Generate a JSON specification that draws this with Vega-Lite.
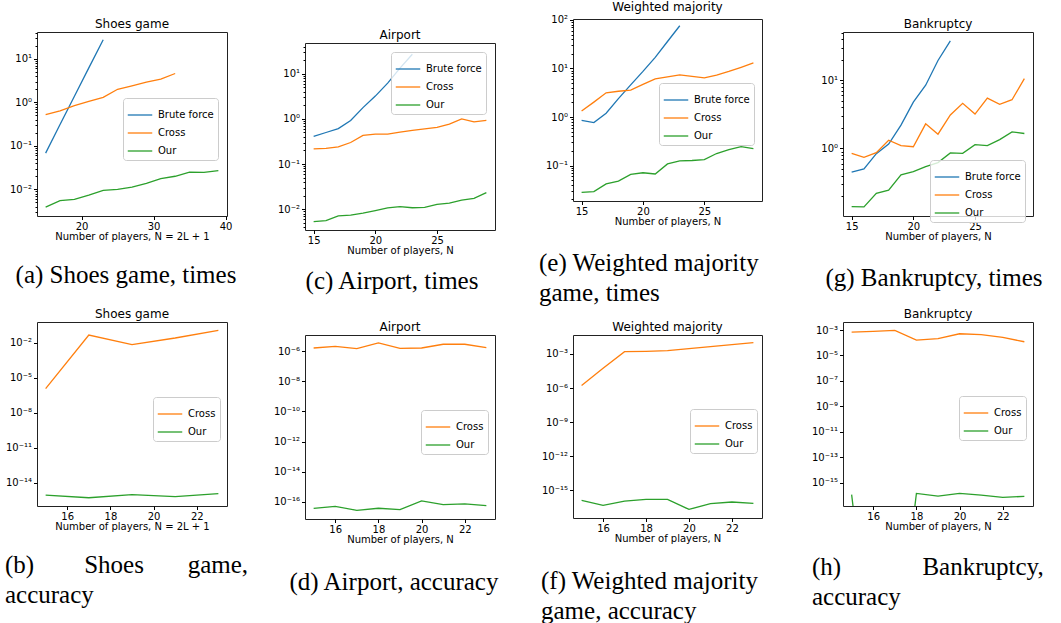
{
  "$schema": "https://vega.github.io/schema/vega-lite/v6.json",
  "padding": {"left": 4, "top": 0, "right": 0, "bottom": 0},
  "datasets": {
    "shoesT": [
      {"N": 15, "method": "Brute force", "value": 0.068}, {"N": 17, "method": "Brute force", "value": 0.31}, {"N": 19, "method": "Brute force", "value": 1.38}, {"N": 21, "method": "Brute force", "value": 6.2}, {"N": 23, "method": "Brute force", "value": 27.5},
      {"N": 15, "method": "Cross", "value": 0.52}, {"N": 17, "method": "Cross", "value": 0.64}, {"N": 19, "method": "Cross", "value": 0.84}, {"N": 21, "method": "Cross", "value": 1.05}, {"N": 23, "method": "Cross", "value": 1.3}, {"N": 25, "method": "Cross", "value": 2.0}, {"N": 27, "method": "Cross", "value": 2.4}, {"N": 29, "method": "Cross", "value": 2.9}, {"N": 31, "method": "Cross", "value": 3.4}, {"N": 33, "method": "Cross", "value": 4.6},
      {"N": 15, "method": "Our", "value": 0.0039}, {"N": 17, "method": "Our", "value": 0.0055}, {"N": 19, "method": "Our", "value": 0.0059}, {"N": 21, "method": "Our", "value": 0.0074}, {"N": 23, "method": "Our", "value": 0.0095}, {"N": 25, "method": "Our", "value": 0.0100}, {"N": 27, "method": "Our", "value": 0.0112}, {"N": 29, "method": "Our", "value": 0.0138}, {"N": 31, "method": "Our", "value": 0.0176}, {"N": 33, "method": "Our", "value": 0.020}, {"N": 35, "method": "Our", "value": 0.025}, {"N": 37, "method": "Our", "value": 0.0246}, {"N": 39, "method": "Our", "value": 0.027}
    ],
    "airT": [
      {"N": 15, "method": "Brute force", "value": 0.41}, {"N": 16, "method": "Brute force", "value": 0.50}, {"N": 17, "method": "Brute force", "value": 0.61}, {"N": 18, "method": "Brute force", "value": 0.92}, {"N": 19, "method": "Brute force", "value": 1.78}, {"N": 20, "method": "Brute force", "value": 3.2}, {"N": 21, "method": "Brute force", "value": 6.2}, {"N": 22, "method": "Brute force", "value": 13.3}, {"N": 23, "method": "Brute force", "value": 27},
      {"N": 15, "method": "Cross", "value": 0.216}, {"N": 16, "method": "Cross", "value": 0.223}, {"N": 17, "method": "Cross", "value": 0.24}, {"N": 18, "method": "Cross", "value": 0.30}, {"N": 19, "method": "Cross", "value": 0.43}, {"N": 20, "method": "Cross", "value": 0.46}, {"N": 21, "method": "Cross", "value": 0.46}, {"N": 22, "method": "Cross", "value": 0.51}, {"N": 23, "method": "Cross", "value": 0.56}, {"N": 24, "method": "Cross", "value": 0.60}, {"N": 25, "method": "Cross", "value": 0.65}, {"N": 26, "method": "Cross", "value": 0.77}, {"N": 27, "method": "Cross", "value": 1.0}, {"N": 28, "method": "Cross", "value": 0.86}, {"N": 29, "method": "Cross", "value": 0.93},
      {"N": 15, "method": "Our", "value": 0.0053}, {"N": 16, "method": "Our", "value": 0.0056}, {"N": 17, "method": "Our", "value": 0.0071}, {"N": 18, "method": "Our", "value": 0.0074}, {"N": 19, "method": "Our", "value": 0.0082}, {"N": 20, "method": "Our", "value": 0.0093}, {"N": 21, "method": "Our", "value": 0.0107}, {"N": 22, "method": "Our", "value": 0.0114}, {"N": 23, "method": "Our", "value": 0.0108}, {"N": 24, "method": "Our", "value": 0.011}, {"N": 25, "method": "Our", "value": 0.0128}, {"N": 26, "method": "Our", "value": 0.0137}, {"N": 27, "method": "Our", "value": 0.016}, {"N": 28, "method": "Our", "value": 0.0174}, {"N": 29, "method": "Our", "value": 0.0233}
    ],
    "wmT": [
      {"N": 15, "method": "Brute force", "value": 0.85}, {"N": 16, "method": "Brute force", "value": 0.77}, {"N": 17, "method": "Brute force", "value": 1.2}, {"N": 18, "method": "Brute force", "value": 2.4}, {"N": 19, "method": "Brute force", "value": 4.6}, {"N": 20, "method": "Brute force", "value": 8.7}, {"N": 21, "method": "Brute force", "value": 17}, {"N": 22, "method": "Brute force", "value": 36}, {"N": 23, "method": "Brute force", "value": 76},
      {"N": 15, "method": "Cross", "value": 1.33}, {"N": 16, "method": "Cross", "value": 2.03}, {"N": 17, "method": "Cross", "value": 3.16}, {"N": 18, "method": "Cross", "value": 3.4}, {"N": 19, "method": "Cross", "value": 3.6}, {"N": 20, "method": "Cross", "value": 4.7}, {"N": 21, "method": "Cross", "value": 6.1}, {"N": 22, "method": "Cross", "value": 6.7}, {"N": 23, "method": "Cross", "value": 7.4}, {"N": 24, "method": "Cross", "value": 6.9}, {"N": 25, "method": "Cross", "value": 6.4}, {"N": 26, "method": "Cross", "value": 7.3}, {"N": 27, "method": "Cross", "value": 8.7}, {"N": 28, "method": "Cross", "value": 10.6}, {"N": 29, "method": "Cross", "value": 13.1},
      {"N": 15, "method": "Our", "value": 0.028}, {"N": 16, "method": "Our", "value": 0.029}, {"N": 17, "method": "Our", "value": 0.042}, {"N": 18, "method": "Our", "value": 0.048}, {"N": 19, "method": "Our", "value": 0.066}, {"N": 20, "method": "Our", "value": 0.071}, {"N": 21, "method": "Our", "value": 0.067}, {"N": 22, "method": "Our", "value": 0.108}, {"N": 23, "method": "Our", "value": 0.125}, {"N": 24, "method": "Our", "value": 0.127}, {"N": 25, "method": "Our", "value": 0.132}, {"N": 26, "method": "Our", "value": 0.177}, {"N": 27, "method": "Our", "value": 0.214}, {"N": 28, "method": "Our", "value": 0.246}, {"N": 29, "method": "Our", "value": 0.224}
    ],
    "bankT": [
      {"N": 15, "method": "Brute force", "value": 0.45}, {"N": 16, "method": "Brute force", "value": 0.50}, {"N": 17, "method": "Brute force", "value": 0.84}, {"N": 18, "method": "Brute force", "value": 1.16}, {"N": 19, "method": "Brute force", "value": 2.2}, {"N": 20, "method": "Brute force", "value": 4.8}, {"N": 21, "method": "Brute force", "value": 8.5}, {"N": 22, "method": "Brute force", "value": 19.6}, {"N": 23, "method": "Brute force", "value": 38},
      {"N": 15, "method": "Cross", "value": 0.85}, {"N": 16, "method": "Cross", "value": 0.74}, {"N": 17, "method": "Cross", "value": 0.87}, {"N": 18, "method": "Cross", "value": 1.32}, {"N": 19, "method": "Cross", "value": 1.1}, {"N": 20, "method": "Cross", "value": 1.06}, {"N": 21, "method": "Cross", "value": 2.3}, {"N": 22, "method": "Cross", "value": 1.62}, {"N": 23, "method": "Cross", "value": 3.1}, {"N": 24, "method": "Cross", "value": 4.6}, {"N": 25, "method": "Cross", "value": 3.2}, {"N": 26, "method": "Cross", "value": 5.5}, {"N": 27, "method": "Cross", "value": 4.46}, {"N": 28, "method": "Cross", "value": 5.2}, {"N": 29, "method": "Cross", "value": 10.6},
      {"N": 15, "method": "Our", "value": 0.14}, {"N": 16, "method": "Our", "value": 0.139}, {"N": 17, "method": "Our", "value": 0.22}, {"N": 18, "method": "Our", "value": 0.245}, {"N": 19, "method": "Our", "value": 0.41}, {"N": 20, "method": "Our", "value": 0.456}, {"N": 21, "method": "Our", "value": 0.54}, {"N": 22, "method": "Our", "value": 0.62}, {"N": 23, "method": "Our", "value": 0.86}, {"N": 24, "method": "Our", "value": 0.85}, {"N": 25, "method": "Our", "value": 1.14}, {"N": 26, "method": "Our", "value": 1.1}, {"N": 27, "method": "Our", "value": 1.35}, {"N": 28, "method": "Our", "value": 1.75}, {"N": 29, "method": "Our", "value": 1.66}
    ],
    "shoesA": [
      {"N": 15, "method": "Cross", "value": 1.15e-6}, {"N": 17, "method": "Cross", "value": 0.045}, {"N": 19, "method": "Cross", "value": 0.0067}, {"N": 21, "method": "Cross", "value": 0.025}, {"N": 23, "method": "Cross", "value": 0.115},
      {"N": 15, "method": "Our", "value": 8.7e-16}, {"N": 17, "method": "Our", "value": 5.1e-16}, {"N": 19, "method": "Our", "value": 9.3e-16}, {"N": 21, "method": "Our", "value": 6.3e-16}, {"N": 23, "method": "Our", "value": 1.15e-15}
    ],
    "airA": [
      {"N": 15, "method": "Cross", "value": 1.58e-6}, {"N": 16, "method": "Cross", "value": 2.0e-6}, {"N": 17, "method": "Cross", "value": 1.42e-6}, {"N": 18, "method": "Cross", "value": 3.4e-6}, {"N": 19, "method": "Cross", "value": 1.5e-6}, {"N": 20, "method": "Cross", "value": 1.58e-6}, {"N": 21, "method": "Cross", "value": 2.8e-6}, {"N": 22, "method": "Cross", "value": 2.8e-6}, {"N": 23, "method": "Cross", "value": 1.65e-6},
      {"N": 15, "method": "Our", "value": 3.8e-17}, {"N": 16, "method": "Our", "value": 5.1e-17}, {"N": 17, "method": "Our", "value": 2.8e-17}, {"N": 18, "method": "Our", "value": 3.8e-17}, {"N": 19, "method": "Our", "value": 3.1e-17}, {"N": 20, "method": "Our", "value": 1.17e-16}, {"N": 21, "method": "Our", "value": 6.6e-17}, {"N": 22, "method": "Our", "value": 7.4e-17}, {"N": 23, "method": "Our", "value": 5.7e-17}
    ],
    "wmA": [
      {"N": 15, "method": "Cross", "value": 1.66e-6}, {"N": 16, "method": "Cross", "value": 5.5e-5}, {"N": 17, "method": "Cross", "value": 1.6e-3}, {"N": 18, "method": "Cross", "value": 1.7e-3}, {"N": 19, "method": "Cross", "value": 1.95e-3}, {"N": 20, "method": "Cross", "value": 2.9e-3}, {"N": 21, "method": "Cross", "value": 4.4e-3}, {"N": 22, "method": "Cross", "value": 6.6e-3}, {"N": 23, "method": "Cross", "value": 0.01},
      {"N": 15, "method": "Our", "value": 1.3e-16}, {"N": 16, "method": "Our", "value": 4.8e-17}, {"N": 17, "method": "Our", "value": 1.15e-16}, {"N": 18, "method": "Our", "value": 1.6e-16}, {"N": 19, "method": "Our", "value": 1.6e-16}, {"N": 20, "method": "Our", "value": 2.1e-17}, {"N": 21, "method": "Our", "value": 6.7e-17}, {"N": 22, "method": "Our", "value": 9.5e-17}, {"N": 23, "method": "Our", "value": 7.2e-17}
    ],
    "bankA": [
      {"N": 15, "method": "Cross", "value": 6.9e-4}, {"N": 16, "method": "Cross", "value": 7.9e-4}, {"N": 17, "method": "Cross", "value": 9.4e-4}, {"N": 18, "method": "Cross", "value": 1.6e-4}, {"N": 19, "method": "Cross", "value": 2.1e-4}, {"N": 20, "method": "Cross", "value": 5.1e-4}, {"N": 21, "method": "Cross", "value": 4.3e-4}, {"N": 22, "method": "Cross", "value": 2.6e-4}, {"N": 23, "method": "Cross", "value": 1.2e-4},
      {"N": 15, "method": "Our", "value": 1.15e-16}, {"N": 16, "method": "Our", "value": 1e-30}, {"N": 17, "method": "Our", "value": 1e-30}, {"N": 18, "method": "Our", "value": 1.45e-16}, {"N": 19, "method": "Our", "value": 9e-17}, {"N": 20, "method": "Our", "value": 1.45e-16}, {"N": 21, "method": "Our", "value": 1.07e-16}, {"N": 22, "method": "Our", "value": 7e-17}, {"N": 23, "method": "Our", "value": 8.5e-17}
    ]
  },
  "hconcat": [
    {
      "hconcat": [
        {
          "vconcat": [
            {
              "vconcat": [
                {"data": {"values": []}, "mark": "point", "width": 190, "height": 32, "view": {"stroke": null, "fill": "white"}},
                {
                  "data": {"name": "shoesT"}, "width": 190, "height": 184, "title": "Shoes game",
                  "layer": [
                    {
                      "mark": {"type": "line", "clip": true},
                      "encoding": {
                        "x": {"field": "N", "type": "quantitative", "scale": {"domain": [13.8, 40.2], "nice": false, "zero": false}, "axis": {"values": [20, 30, 40], "format": "d", "title": "Number of players, N = 2L + 1"}},
                        "y": {"field": "value", "type": "quantitative", "scale": {"type": "log", "domain": [0.00244, 41.4], "nice": false}, "axis": {"values": [0.01, 0.1, 1, 10], "title": null, "labelExpr": "'10' + substring('⁻⁰¹²³⁴⁵⁶⁷⁸⁹', indexof('-0123456789', substring(toString(round(log(datum.value)/LN10)),0,1)), indexof('-0123456789', substring(toString(round(log(datum.value)/LN10)),0,1))+1) + (length(toString(round(log(datum.value)/LN10)))>1 ? substring('⁻⁰¹²³⁴⁵⁶⁷⁸⁹', indexof('-0123456789', substring(toString(round(log(datum.value)/LN10)),1,2)), indexof('-0123456789', substring(toString(round(log(datum.value)/LN10)),1,2))+1) : '') + (length(toString(round(log(datum.value)/LN10)))>2 ? substring('⁻⁰¹²³⁴⁵⁶⁷⁸⁹', indexof('-0123456789', substring(toString(round(log(datum.value)/LN10)),2,3)), indexof('-0123456789', substring(toString(round(log(datum.value)/LN10)),2,3))+1) : '')"}},
                        "color": {"field": "method", "type": "nominal", "title": null, "scale": {"domain": ["Brute force", "Cross", "Our"], "range": ["#1f77b4", "#ff7f0e", "#2ca02c"]}, "legend": {"orient": "none", "legendX": 86, "legendY": 66}}
                      }
                    },
                    {
                      "mark": {"type": "line", "clip": true, "strokeOpacity": 0},
                      "encoding": {
                        "x": {"field": "N", "type": "quantitative", "scale": {"domain": [13.8, 40.2], "nice": false, "zero": false}, "axis": {"values": [20, 30, 40], "format": "d", "title": "Number of players, N = 2L + 1"}},
                        "y": {"field": "value", "type": "quantitative", "scale": {"type": "log", "domain": [0.00244, 41.4], "nice": false}, "axis": {"orient": "left", "values": [0.003, 0.004, 0.005, 0.006, 0.007, 0.008, 0.009, 0.02, 0.03, 0.04, 0.05, 0.06, 0.07, 0.08, 0.09, 0.2, 0.3, 0.4, 0.5, 0.6, 0.7, 0.8, 0.9, 2, 3, 4, 5, 6, 7, 8, 9, 20, 30, 40], "labels": false, "tickSize": 2, "title": null}}
                      }
                    }
                  ],
                  "resolve": {"axis": {"y": "independent"}}
                }
              ],
              "spacing": 0, "bounds": "flush",
              "resolve": {"scale": {"color": "independent"}, "legend": {"color": "independent"}},
              "title": {"text": "(a) Shoes game, times", "orient": "bottom", "anchor": "middle", "frame": "group", "dx": 89, "offset": 21, "font": "Liberation Serif", "fontSize": 25}
            },
            {
              "vconcat": [
                {"data": {"values": []}, "mark": "point", "width": 190, "height": 20, "view": {"stroke": null, "fill": "white"}},
                {
                  "data": {"name": "shoesA"}, "width": 190, "height": 184, "title": "Shoes game",
                  "mark": {"type": "line", "clip": true},
                  "encoding": {
                    "x": {"field": "N", "type": "quantitative", "scale": {"domain": [14.6, 23.4], "nice": false, "zero": false}, "axis": {"values": [16, 18, 20, 22], "format": "d", "title": "Number of players, N = 2L + 1"}},
                    "y": {"field": "value", "type": "quantitative", "scale": {"type": "log", "domain": [1e-16, 0.589], "nice": false}, "axis": {"values": [1e-14, 1e-11, 1e-8, 1e-5, 1e-2], "title": null, "labelExpr": "'10' + substring('⁻⁰¹²³⁴⁵⁶⁷⁸⁹', indexof('-0123456789', substring(toString(round(log(datum.value)/LN10)),0,1)), indexof('-0123456789', substring(toString(round(log(datum.value)/LN10)),0,1))+1) + (length(toString(round(log(datum.value)/LN10)))>1 ? substring('⁻⁰¹²³⁴⁵⁶⁷⁸⁹', indexof('-0123456789', substring(toString(round(log(datum.value)/LN10)),1,2)), indexof('-0123456789', substring(toString(round(log(datum.value)/LN10)),1,2))+1) : '') + (length(toString(round(log(datum.value)/LN10)))>2 ? substring('⁻⁰¹²³⁴⁵⁶⁷⁸⁹', indexof('-0123456789', substring(toString(round(log(datum.value)/LN10)),2,3)), indexof('-0123456789', substring(toString(round(log(datum.value)/LN10)),2,3))+1) : '')"}},
                    "color": {"field": "method", "type": "nominal", "title": null, "scale": {"domain": ["Cross", "Our"], "range": ["#ff7f0e", "#2ca02c"]}, "legend": {"orient": "none", "legendX": 116, "legendY": 75}}
                  }
                }
              ],
              "spacing": 0, "bounds": "flush",
              "resolve": {"scale": {"color": "independent"}, "legend": {"color": "independent"}},
              "title": {"text": ["(b)\u00a0\u00a0\u00a0\u00a0\u00a0\u00a0\u00a0\u00a0Shoes\u00a0\u00a0\u00a0\u00a0\u00a0\u00a0\u00a0game,", "accuracy"], "orient": "bottom", "anchor": "start", "align": "left", "frame": "group", "dx": -32, "offset": 21, "lineHeight": 30, "font": "Liberation Serif", "fontSize": 25}
            }
          ],
          "spacing": 14,
          "resolve": {"scale": {"color": "independent"}, "legend": {"color": "independent"}}
        },
        {
          "vconcat": [
            {
              "vconcat": [
                {"data": {"values": []}, "mark": "point", "width": 190, "height": 43, "view": {"stroke": null, "fill": "white"}},
                {
                  "data": {"name": "airT"}, "width": 190, "height": 187, "title": "Airport",
                  "layer": [
                    {
                      "mark": {"type": "line", "clip": true},
                      "encoding": {
                        "x": {"field": "N", "type": "quantitative", "scale": {"domain": [14.3, 29.7], "nice": false, "zero": false}, "axis": {"values": [15, 20, 25], "format": "d", "title": "Number of players, N"}},
                        "y": {"field": "value", "type": "quantitative", "scale": {"type": "log", "domain": [0.00347, 47.9], "nice": false}, "axis": {"values": [0.01, 0.1, 1, 10], "title": null, "labelExpr": "'10' + substring('⁻⁰¹²³⁴⁵⁶⁷⁸⁹', indexof('-0123456789', substring(toString(round(log(datum.value)/LN10)),0,1)), indexof('-0123456789', substring(toString(round(log(datum.value)/LN10)),0,1))+1) + (length(toString(round(log(datum.value)/LN10)))>1 ? substring('⁻⁰¹²³⁴⁵⁶⁷⁸⁹', indexof('-0123456789', substring(toString(round(log(datum.value)/LN10)),1,2)), indexof('-0123456789', substring(toString(round(log(datum.value)/LN10)),1,2))+1) : '') + (length(toString(round(log(datum.value)/LN10)))>2 ? substring('⁻⁰¹²³⁴⁵⁶⁷⁸⁹', indexof('-0123456789', substring(toString(round(log(datum.value)/LN10)),2,3)), indexof('-0123456789', substring(toString(round(log(datum.value)/LN10)),2,3))+1) : '')"}},
                        "color": {"field": "method", "type": "nominal", "title": null, "scale": {"domain": ["Brute force", "Cross", "Our"], "range": ["#1f77b4", "#ff7f0e", "#2ca02c"]}, "legend": {"orient": "none", "legendX": 86, "legendY": 9}}
                      }
                    },
                    {
                      "mark": {"type": "line", "clip": true, "strokeOpacity": 0},
                      "encoding": {
                        "x": {"field": "N", "type": "quantitative", "scale": {"domain": [14.3, 29.7], "nice": false, "zero": false}, "axis": {"values": [15, 20, 25], "format": "d", "title": "Number of players, N"}},
                        "y": {"field": "value", "type": "quantitative", "scale": {"type": "log", "domain": [0.00347, 47.9], "nice": false}, "axis": {"orient": "left", "values": [0.004, 0.005, 0.006, 0.007, 0.008, 0.009, 0.02, 0.03, 0.04, 0.05, 0.06, 0.07, 0.08, 0.09, 0.2, 0.3, 0.4, 0.5, 0.6, 0.7, 0.8, 0.9, 2, 3, 4, 5, 6, 7, 8, 9, 20, 30, 40], "labels": false, "tickSize": 2, "title": null}}
                      }
                    }
                  ],
                  "resolve": {"axis": {"y": "independent"}}
                }
              ],
              "spacing": 0, "bounds": "flush",
              "resolve": {"scale": {"color": "independent"}, "legend": {"color": "independent"}},
              "title": {"text": "(c) Airport, times", "orient": "bottom", "anchor": "middle", "frame": "group", "dx": 87, "offset": 13, "font": "Liberation Serif", "fontSize": 25}
            },
            {
              "vconcat": [
                {"data": {"values": []}, "mark": "point", "width": 190, "height": 20, "view": {"stroke": null, "fill": "white"}},
                {
                  "data": {"name": "airA"}, "width": 190, "height": 184, "title": "Airport",
                  "mark": {"type": "line", "clip": true},
                  "encoding": {
                    "x": {"field": "N", "type": "quantitative", "scale": {"domain": [14.6, 23.4], "nice": false, "zero": false}, "axis": {"values": [16, 18, 20, 22], "format": "d", "title": "Number of players, N"}},
                    "y": {"field": "value", "type": "quantitative", "scale": {"type": "log", "domain": [7.4e-18, 1.15e-5], "nice": false}, "axis": {"values": [1e-16, 1e-14, 1e-12, 1e-10, 1e-8, 1e-6], "title": null, "labelExpr": "'10' + substring('⁻⁰¹²³⁴⁵⁶⁷⁸⁹', indexof('-0123456789', substring(toString(round(log(datum.value)/LN10)),0,1)), indexof('-0123456789', substring(toString(round(log(datum.value)/LN10)),0,1))+1) + (length(toString(round(log(datum.value)/LN10)))>1 ? substring('⁻⁰¹²³⁴⁵⁶⁷⁸⁹', indexof('-0123456789', substring(toString(round(log(datum.value)/LN10)),1,2)), indexof('-0123456789', substring(toString(round(log(datum.value)/LN10)),1,2))+1) : '') + (length(toString(round(log(datum.value)/LN10)))>2 ? substring('⁻⁰¹²³⁴⁵⁶⁷⁸⁹', indexof('-0123456789', substring(toString(round(log(datum.value)/LN10)),2,3)), indexof('-0123456789', substring(toString(round(log(datum.value)/LN10)),2,3))+1) : '')"}},
                    "color": {"field": "method", "type": "nominal", "title": null, "scale": {"domain": ["Cross", "Our"], "range": ["#ff7f0e", "#2ca02c"]}, "legend": {"orient": "none", "legendX": 116, "legendY": 75}}
                  }
                }
              ],
              "spacing": 0, "bounds": "flush",
              "resolve": {"scale": {"color": "independent"}, "legend": {"color": "independent"}},
              "title": {"text": "(d) Airport, accuracy", "orient": "bottom", "anchor": "middle", "frame": "group", "dx": 89, "offset": 25, "font": "Liberation Serif", "fontSize": 25}
            }
          ],
          "spacing": 21,
          "resolve": {"scale": {"color": "independent"}, "legend": {"color": "independent"}}
        }
      ],
      "spacing": 23,
      "resolve": {"scale": {"color": "independent"}, "legend": {"color": "independent"}}
    },
    {
      "hconcat": [
        {
          "vconcat": [
            {
              "vconcat": [
                {"data": {"values": []}, "mark": "point", "width": 189, "height": 19, "view": {"stroke": null, "fill": "white"}},
                {
                  "data": {"name": "wmT"}, "width": 189, "height": 182, "title": "Weighted majority",
                  "layer": [
                    {
                      "mark": {"type": "line", "clip": true},
                      "encoding": {
                        "x": {"field": "N", "type": "quantitative", "scale": {"domain": [14.3, 29.7], "nice": false, "zero": false}, "axis": {"values": [15, 20, 25], "format": "d", "title": "Number of players, N"}},
                        "y": {"field": "value", "type": "quantitative", "scale": {"type": "log", "domain": [0.0186, 104.7], "nice": false}, "axis": {"values": [0.1, 1, 10, 100], "title": null, "labelExpr": "'10' + substring('⁻⁰¹²³⁴⁵⁶⁷⁸⁹', indexof('-0123456789', substring(toString(round(log(datum.value)/LN10)),0,1)), indexof('-0123456789', substring(toString(round(log(datum.value)/LN10)),0,1))+1) + (length(toString(round(log(datum.value)/LN10)))>1 ? substring('⁻⁰¹²³⁴⁵⁶⁷⁸⁹', indexof('-0123456789', substring(toString(round(log(datum.value)/LN10)),1,2)), indexof('-0123456789', substring(toString(round(log(datum.value)/LN10)),1,2))+1) : '') + (length(toString(round(log(datum.value)/LN10)))>2 ? substring('⁻⁰¹²³⁴⁵⁶⁷⁸⁹', indexof('-0123456789', substring(toString(round(log(datum.value)/LN10)),2,3)), indexof('-0123456789', substring(toString(round(log(datum.value)/LN10)),2,3))+1) : '')"}},
                        "color": {"field": "method", "type": "nominal", "title": null, "scale": {"domain": ["Brute force", "Cross", "Our"], "range": ["#1f77b4", "#ff7f0e", "#2ca02c"]}, "legend": {"orient": "none", "legendX": 86, "legendY": 64}}
                      }
                    },
                    {
                      "mark": {"type": "line", "clip": true, "strokeOpacity": 0},
                      "encoding": {
                        "x": {"field": "N", "type": "quantitative", "scale": {"domain": [14.3, 29.7], "nice": false, "zero": false}, "axis": {"values": [15, 20, 25], "format": "d", "title": "Number of players, N"}},
                        "y": {"field": "value", "type": "quantitative", "scale": {"type": "log", "domain": [0.0186, 104.7], "nice": false}, "axis": {"orient": "left", "values": [0.02, 0.03, 0.04, 0.05, 0.06, 0.07, 0.08, 0.09, 0.2, 0.3, 0.4, 0.5, 0.6, 0.7, 0.8, 0.9, 2, 3, 4, 5, 6, 7, 8, 9, 20, 30, 40, 50, 60, 70, 80, 90], "labels": false, "tickSize": 2, "title": null}}
                      }
                    }
                  ],
                  "resolve": {"axis": {"y": "independent"}}
                }
              ],
              "spacing": 0, "bounds": "flush",
              "resolve": {"scale": {"color": "independent"}, "legend": {"color": "independent"}},
              "title": {"text": ["(e) Weighted majority", "game, times"], "orient": "bottom", "anchor": "start", "align": "left", "frame": "group", "dx": -34, "offset": 24, "lineHeight": 30, "font": "Liberation Serif", "fontSize": 25}
            },
            {
              "vconcat": [
                {"data": {"values": []}, "mark": "point", "width": 189, "height": 20, "view": {"stroke": null, "fill": "white"}},
                {
                  "data": {"name": "wmA"}, "width": 189, "height": 183, "title": "Weighted majority",
                  "mark": {"type": "line", "clip": true},
                  "encoding": {
                    "x": {"field": "N", "type": "quantitative", "scale": {"domain": [14.6, 23.4], "nice": false, "zero": false}, "axis": {"values": [16, 18, 20, 22], "format": "d", "title": "Number of players, N"}},
                    "y": {"field": "value", "type": "quantitative", "scale": {"type": "log", "domain": [3.7e-18, 0.0468], "nice": false}, "axis": {"values": [1e-15, 1e-12, 1e-9, 1e-6, 1e-3], "title": null, "labelExpr": "'10' + substring('⁻⁰¹²³⁴⁵⁶⁷⁸⁹', indexof('-0123456789', substring(toString(round(log(datum.value)/LN10)),0,1)), indexof('-0123456789', substring(toString(round(log(datum.value)/LN10)),0,1))+1) + (length(toString(round(log(datum.value)/LN10)))>1 ? substring('⁻⁰¹²³⁴⁵⁶⁷⁸⁹', indexof('-0123456789', substring(toString(round(log(datum.value)/LN10)),1,2)), indexof('-0123456789', substring(toString(round(log(datum.value)/LN10)),1,2))+1) : '') + (length(toString(round(log(datum.value)/LN10)))>2 ? substring('⁻⁰¹²³⁴⁵⁶⁷⁸⁹', indexof('-0123456789', substring(toString(round(log(datum.value)/LN10)),2,3)), indexof('-0123456789', substring(toString(round(log(datum.value)/LN10)),2,3))+1) : '')"}},
                    "color": {"field": "method", "type": "nominal", "title": null, "scale": {"domain": ["Cross", "Our"], "range": ["#ff7f0e", "#2ca02c"]}, "legend": {"orient": "none", "legendX": 117, "legendY": 74}}
                  }
                }
              ],
              "spacing": 0, "bounds": "flush",
              "resolve": {"scale": {"color": "independent"}, "legend": {"color": "independent"}},
              "title": {"text": ["(f) Weighted majority", "game, accuracy"], "orient": "bottom", "anchor": "start", "align": "left", "frame": "group", "dx": -32, "offset": 25, "lineHeight": 30, "font": "Liberation Serif", "fontSize": 25}
            }
          ],
          "spacing": 9,
          "resolve": {"scale": {"color": "independent"}, "legend": {"color": "independent"}}
        },
        {
          "vconcat": [
            {
              "vconcat": [
                {"data": {"values": []}, "mark": "point", "width": 190, "height": 32, "view": {"stroke": null, "fill": "white"}},
                {
                  "data": {"name": "bankT"}, "width": 190, "height": 184, "title": "Bankruptcy",
                  "layer": [
                    {
                      "mark": {"type": "line", "clip": true},
                      "encoding": {
                        "x": {"field": "N", "type": "quantitative", "scale": {"domain": [14.3, 29.7], "nice": false, "zero": false}, "axis": {"values": [15, 20, 25], "format": "d", "title": "Number of players, N"}},
                        "y": {"field": "value", "type": "quantitative", "scale": {"type": "log", "domain": [0.102, 51.3], "nice": false}, "axis": {"values": [1, 10], "title": null, "labelExpr": "'10' + substring('⁻⁰¹²³⁴⁵⁶⁷⁸⁹', indexof('-0123456789', substring(toString(round(log(datum.value)/LN10)),0,1)), indexof('-0123456789', substring(toString(round(log(datum.value)/LN10)),0,1))+1) + (length(toString(round(log(datum.value)/LN10)))>1 ? substring('⁻⁰¹²³⁴⁵⁶⁷⁸⁹', indexof('-0123456789', substring(toString(round(log(datum.value)/LN10)),1,2)), indexof('-0123456789', substring(toString(round(log(datum.value)/LN10)),1,2))+1) : '') + (length(toString(round(log(datum.value)/LN10)))>2 ? substring('⁻⁰¹²³⁴⁵⁶⁷⁸⁹', indexof('-0123456789', substring(toString(round(log(datum.value)/LN10)),2,3)), indexof('-0123456789', substring(toString(round(log(datum.value)/LN10)),2,3))+1) : '')"}},
                        "color": {"field": "method", "type": "nominal", "title": null, "scale": {"domain": ["Brute force", "Cross", "Our"], "range": ["#1f77b4", "#ff7f0e", "#2ca02c"]}, "legend": {"orient": "none", "legendX": 87, "legendY": 128}}
                      }
                    },
                    {
                      "mark": {"type": "line", "clip": true, "strokeOpacity": 0},
                      "encoding": {
                        "x": {"field": "N", "type": "quantitative", "scale": {"domain": [14.3, 29.7], "nice": false, "zero": false}, "axis": {"values": [15, 20, 25], "format": "d", "title": "Number of players, N"}},
                        "y": {"field": "value", "type": "quantitative", "scale": {"type": "log", "domain": [0.102, 51.3], "nice": false}, "axis": {"orient": "left", "values": [0.2, 0.3, 0.4, 0.5, 0.6, 0.7, 0.8, 0.9, 2, 3, 4, 5, 6, 7, 8, 9, 20, 30, 40, 50], "labels": false, "tickSize": 2, "title": null}}
                      }
                    }
                  ],
                  "resolve": {"axis": {"y": "independent"}}
                }
              ],
              "spacing": 0, "bounds": "flush",
              "resolve": {"scale": {"color": "independent"}, "legend": {"color": "independent"}},
              "title": {"text": "(g) Bankruptcy, times", "orient": "bottom", "anchor": "middle", "frame": "group", "dx": 91, "offset": 24, "font": "Liberation Serif", "fontSize": 25}
            },
            {
              "vconcat": [
                {"data": {"values": []}, "mark": "point", "width": 190, "height": 20, "view": {"stroke": null, "fill": "white"}},
                {
                  "data": {"name": "bankA"}, "width": 190, "height": 184, "title": "Bankruptcy",
                  "mark": {"type": "line", "clip": true},
                  "encoding": {
                    "x": {"field": "N", "type": "quantitative", "scale": {"domain": [14.6, 23.4], "nice": false, "zero": false}, "axis": {"values": [16, 18, 20, 22], "format": "d", "title": "Number of players, N"}},
                    "y": {"field": "value", "type": "quantitative", "scale": {"type": "log", "domain": [1.48e-17, 0.00427], "nice": false}, "axis": {"values": [1e-15, 1e-13, 1e-11, 1e-9, 1e-7, 1e-5, 1e-3], "title": null, "labelExpr": "'10' + substring('⁻⁰¹²³⁴⁵⁶⁷⁸⁹', indexof('-0123456789', substring(toString(round(log(datum.value)/LN10)),0,1)), indexof('-0123456789', substring(toString(round(log(datum.value)/LN10)),0,1))+1) + (length(toString(round(log(datum.value)/LN10)))>1 ? substring('⁻⁰¹²³⁴⁵⁶⁷⁸⁹', indexof('-0123456789', substring(toString(round(log(datum.value)/LN10)),1,2)), indexof('-0123456789', substring(toString(round(log(datum.value)/LN10)),1,2))+1) : '') + (length(toString(round(log(datum.value)/LN10)))>2 ? substring('⁻⁰¹²³⁴⁵⁶⁷⁸⁹', indexof('-0123456789', substring(toString(round(log(datum.value)/LN10)),2,3)), indexof('-0123456789', substring(toString(round(log(datum.value)/LN10)),2,3))+1) : '')"}},
                    "color": {"field": "method", "type": "nominal", "title": null, "scale": {"domain": ["Cross", "Our"], "range": ["#ff7f0e", "#2ca02c"]}, "legend": {"orient": "none", "legendX": 116, "legendY": 74}}
                  }
                }
              ],
              "spacing": 0, "bounds": "flush",
              "resolve": {"scale": {"color": "independent"}, "legend": {"color": "independent"}},
              "title": {"text": ["(h)\u00a0\u00a0\u00a0\u00a0\u00a0\u00a0\u00a0\u00a0\u00a0\u00a0\u00a0\u00a0\u00a0Bankruptcy,", "accuracy"], "orient": "bottom", "anchor": "start", "align": "left", "frame": "group", "dx": -31, "offset": 23, "lineHeight": 30, "font": "Liberation Serif", "fontSize": 25}
            }
          ],
          "spacing": 11,
          "resolve": {"scale": {"color": "independent"}, "legend": {"color": "independent"}}
        }
      ],
      "spacing": 47,
      "resolve": {"scale": {"color": "independent"}, "legend": {"color": "independent"}}
    }
  ],
  "spacing": 39,
  "resolve": {"scale": {"color": "independent"}, "legend": {"color": "independent"}},
  "config": {
    "font": "DejaVu Sans",
    "background": "white",
    "view": {"stroke": "#222", "strokeWidth": 1},
    "title": {"font": "DejaVu Sans", "fontSize": 12, "fontWeight": "normal", "color": "#000", "offset": 1},
    "axis": {"domain": false, "grid": false, "ticks": true, "tickSize": 3.5, "tickColor": "#000", "labelColor": "#000", "labelFont": "DejaVu Sans", "labelFontSize": 10, "labelPadding": 2, "labelFlush": false, "labelOverlap": false, "titleFont": "DejaVu Sans", "titleFontSize": 10, "titleFontWeight": "normal", "titleColor": "#000", "titlePadding": 0},
    "legend": {"labelFont": "DejaVu Sans", "labelFontSize": 10, "labelColor": "#000", "symbolType": "stroke", "symbolStrokeWidth": 1.5, "symbolSize": 600, "strokeColor": "#cccccc", "fillColor": "rgba(255,255,255,0.8)", "cornerRadius": 3, "padding": 4, "labelOffset": 5, "rowPadding": -9},
    "line": {"strokeWidth": 1.3}
  }
}
